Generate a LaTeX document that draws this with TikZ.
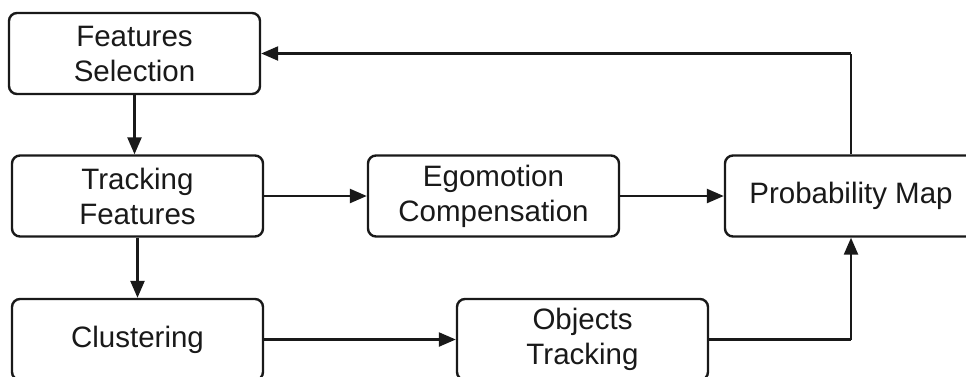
\documentclass[tikz,border=0pt]{standalone}
\usepackage{fontspec}
\setmainfont{Liberation Sans}
\usetikzlibrary{arrows.meta}
\begin{document}
\begin{tikzpicture}[x=1pt,y=-1pt,
  blk/.style={draw=black!90, line width=2.4pt, rounded corners=8pt, fill=white, minimum height=81pt, align=center, font=\fontsize{29.5}{35}\selectfont, text=black!90, inner sep=0pt},
  conn/.style={draw=black!90, line width=2.4pt, -{Triangle[length=17pt,width=14pt]}},
  plain/.style={draw=black!90, line width=2.4pt}]
\useasboundingbox (0,0) rectangle (966,376);
\clip (0,0) rectangle (966,376);
\node[blk, minimum width=251pt] (fs) at (134.5,53.5) {Features\\Selection};
\node[blk, minimum width=251pt] (tf) at (137.5,196) {Tracking\\Features};
\node[blk, minimum width=251pt] (cl) at (137.5,339.5) {Clustering};
\node[blk, minimum width=251pt] (eg) at (493.5,196) {Egomotion\\Compensation};
\node[blk, minimum width=252pt] (pm) at (851,196) {Probability Map};
\node[blk, minimum width=251pt] (ot) at (582.5,339.5) {Objects\\Tracking};
\coordinate (c1) at (851,53.5);
\coordinate (c2) at (851,339.5);
\draw[conn] (fs.south -| 134.5,0) -- (tf.north -| 134.5,0);
\draw[conn] (tf.south) -- (cl.north);
\draw[conn] (tf.east) -- (eg.west);
\draw[conn] (eg.east) -- (pm.west);
\draw[conn] (cl.east) -- (ot.west);
\draw[plain] (ot.east) -- (c2);
\draw[conn] (c2) -- (pm.south);
\draw[plain] (pm.north) -- (c1);
\draw[conn] (c1) -- (fs.east);
\end{tikzpicture}
\end{document}
